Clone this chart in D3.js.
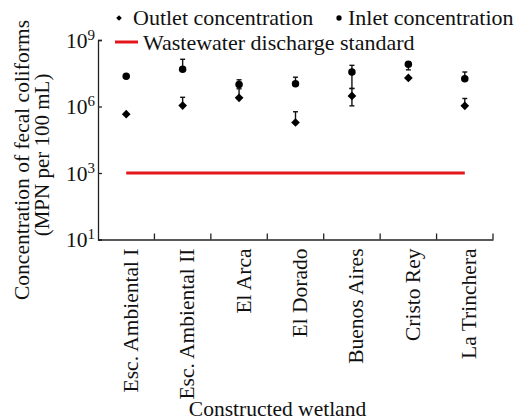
<!DOCTYPE html>
<html>
<head>
<meta charset="utf-8">
<script src="https://cdn.jsdelivr.net/npm/d3@7"></script>
<style>
  body { margin: 0; background: #fff; }
  text { font-family: "Liberation Serif", "Times New Roman", serif; fill: #111; }
</style>
</head>
<body>
<div id="chart"></div>
<script>
// wetlands on the x axis
var wetlands = ["Esc. Ambiental I", "Esc. Ambiental II", "El Arca", "El Dorado",
                "Buenos Aires", "Cristo Rey", "La Trinchera"];

// MPN per 100 mL (log axis)
var inlet     = [2.3e7, 4.8e7, 9.8e6, 1.05e7, 3.6e7, 8.1e7, 1.8e7];
var inletHi   = [null, 1.35e8, 1.6e7, 2.1e7, 7.2e7, 1.0e8, 3.6e7];
var inletLo   = [null, null, null, null, 6.5e6, 4.5e7, null];
var outlet    = [4.5e5, 1.1e6, 2.45e6, 1.9e5, 3.0e6, 1.95e7, 1.07e6];
var outletHi  = [null, 2.6e6, 6.3e6, 5.8e5, 6.5e6, null, 2.3e6];
var outletLo  = [null, null, null, null, 1.07e6, null, null];
var standard  = 1000;

var yTicks = [1, 1e3, 1e6, 1e9];
var yTickExp = ["1", "3", "6", "9"];

var W = 517, H = 420;
var mLeft = 98, mRight = 493, mTop = 40, mBottom = 239.5;

var svg = d3.select("#chart").append("svg")
  .attr("width", W).attr("height", H);

var x = d3.scaleBand().domain(wetlands).range([mLeft, mRight]).padding(0);
var y = d3.scaleLog().domain([1, 1e9]).range([mBottom, mTop]);
var cx = function (d) { return x(d) + x.bandwidth() / 2; };

var axisColor = "#222";

// y axis
var yAxis = svg.append("g")
  .attr("transform", "translate(" + mLeft + ",0)")
  .call(d3.axisLeft(y).tickValues(yTicks).tickSize(-4).tickPadding(3).tickFormat(""));
yAxis.select(".domain").attr("stroke", axisColor).attr("stroke-width", 1.3);
yAxis.selectAll(".tick line").attr("stroke", axisColor).attr("stroke-width", 1.3);
yAxis.selectAll(".tick text").remove();
yAxis.selectAll(".tick").append("text")
  .attr("x", -3).attr("y", 7)
  .attr("text-anchor", "end")
  .style("font-size", "21.5px")
  .each(function (d, i) {
    var t = d3.select(this);
    t.append("tspan").text("10");
    t.append("tspan").attr("dy", -8).style("font-size", "15px").text(yTickExp[i]);
  });

// x axis
var xAxis = svg.append("g")
  .attr("transform", "translate(0," + mBottom + ")")
  .call(d3.axisBottom(x).tickSize(0).tickPadding(0));
xAxis.select(".domain").attr("stroke", axisColor).attr("stroke-width", 1.3);
xAxis.selectAll(".tick text")
  .style("font-size", "21.5px")
  .attr("text-anchor", "end")
  .attr("dy", null)
  .attr("transform", "translate(11.5,9) rotate(-90)")
  .attr("x", 0).attr("y", 0);

// ticks on band edges
var edges = wetlands.map(function (d) { return x(d); }).concat([mRight]);
svg.append("g").selectAll("line").data(edges.slice(1)).enter().append("line")
  .attr("x1", function (d) { return d; }).attr("x2", function (d) { return d; })
  .attr("y1", mBottom).attr("y2", mBottom - 6)
  .attr("stroke", axisColor).attr("stroke-width", 1.3);

// axis titles
svg.append("text")
  .attr("x", (mLeft + mRight) / 2 - 18).attr("y", 416)
  .attr("text-anchor", "middle")
  .style("font-size", "21.5px")
  .text("Constructed wetland");

svg.append("text")
  .attr("transform", "translate(29,160) rotate(-90)")
  .attr("text-anchor", "middle")
  .style("font-size", "21.5px")
  .text("Concentration of fecal coliforms");
svg.append("text")
  .attr("transform", "translate(49,155) rotate(-90)")
  .attr("text-anchor", "middle")
  .style("font-size", "21px")
  .text("(MPN per 100 mL)");

// discharge standard line
svg.append("line")
  .attr("x1", cx(wetlands[0])).attr("x2", cx(wetlands[wetlands.length - 1]))
  .attr("y1", y(standard)).attr("y2", y(standard))
  .attr("stroke", "#e3161b").attr("stroke-width", 3);

// error bars
function errorBars(vals, hi, lo) {
  var g = svg.append("g").attr("stroke", "#111").attr("stroke-width", 1.4);
  wetlands.forEach(function (w, i) {
    var c = cx(w);
    if (hi[i] != null) {
      g.append("line").attr("x1", c).attr("x2", c).attr("y1", y(vals[i])).attr("y2", y(hi[i]));
      g.append("line").attr("x1", c - 2.5).attr("x2", c + 2.5).attr("y1", y(hi[i])).attr("y2", y(hi[i]));
    }
    if (lo[i] != null) {
      g.append("line").attr("x1", c).attr("x2", c).attr("y1", y(vals[i])).attr("y2", y(lo[i]));
      g.append("line").attr("x1", c - 2.5).attr("x2", c + 2.5).attr("y1", y(lo[i])).attr("y2", y(lo[i]));
    }
  });
}
errorBars(inlet, inletHi, inletLo);
errorBars(outlet, outletHi, outletLo);

var diamond = d3.symbol().type(d3.symbolSquare).size(38);
var circle = d3.symbol().type(d3.symbolCircle).size(44);

svg.append("g").selectAll("path").data(outlet).enter().append("path")
  .attr("d", diamond)
  .attr("transform", function (d, i) { return "translate(" + cx(wetlands[i]) + "," + y(d) + ") rotate(45)"; })
  .attr("fill", "#000");

svg.append("g").selectAll("path").data(inlet).enter().append("path")
  .attr("d", circle)
  .attr("transform", function (d, i) { return "translate(" + cx(wetlands[i]) + "," + y(d) + ")"; })
  .attr("fill", "#000");

// legend
var lg = svg.append("g");
lg.append("path").attr("d", d3.symbol().type(d3.symbolSquare).size(16))
  .attr("transform", "translate(119,18) rotate(45)").attr("fill", "#000");
lg.append("text").attr("x", 133).attr("y", 25).style("font-size", "22px").text("Outlet concentration");
lg.append("path").attr("d", d3.symbol().type(d3.symbolCircle).size(22))
  .attr("transform", "translate(339,18)").attr("fill", "#000");
lg.append("text").attr("x", 348).attr("y", 25).style("font-size", "22px").text("Inlet concentration");
lg.append("line").attr("x1", 115).attr("x2", 138).attr("y1", 42).attr("y2", 42)
  .attr("stroke", "#e3161b").attr("stroke-width", 3);
lg.append("text").attr("x", 143).attr("y", 50).style("font-size", "22px").text("Wastewater discharge standard");
</script>
</body>
</html>
